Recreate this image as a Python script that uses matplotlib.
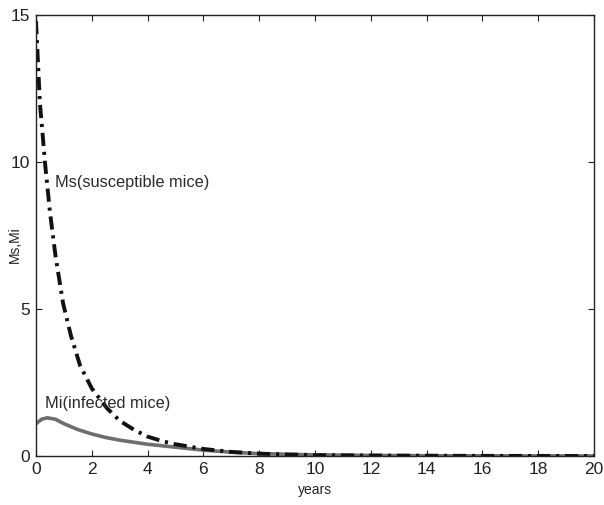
import matplotlib
matplotlib.use("Agg")
import matplotlib.pyplot as plt

# values
years_ms = [0, 0.07, 0.14, 0.25, 0.32, 0.5, 0.7, 0.97, 1.25, 1.58, 2.0, 2.54, 3.0, 3.5,
            4.0, 4.55, 5.0, 6.0, 7.0, 8.0, 9.0, 10, 12, 14, 16, 18, 20]
ms = [14.8, 13.4, 12.0, 10.8, 10.0, 8.3, 6.8, 5.2, 4.1, 3.08, 2.3, 1.63, 1.2, 0.9,
      0.66, 0.5, 0.4, 0.24, 0.14, 0.08, 0.05, 0.03, 0.015, 0.01, 0.005, 0.003, 0.002]

years_mi = [0, 0.2, 0.4, 0.7, 1.0, 1.5, 2.0, 2.5, 3.0, 4.0, 5.0, 6.0, 7.0, 8.0,
            10, 12, 14, 16, 18, 20]
mi = [1.1, 1.25, 1.3, 1.25, 1.1, 0.9, 0.75, 0.63, 0.54, 0.4, 0.3, 0.2, 0.13, 0.08,
      0.04, 0.02, 0.01, 0.005, 0.003, 0.002]

x_ticks = list(range(0, 21, 2))
y_ticks = [0, 5, 10, 15]

plt.rcParams["font.family"] = ["Liberation Sans", "DejaVu Sans"]

fig = plt.figure(figsize=(6.04, 5.05), dpi=100)
ax = fig.add_axes([0.0596, 0.097, 0.924, 0.873])

ax.plot(years_mi, mi, color="#6e6e6e", linewidth=2.6, solid_capstyle="butt")
ax.plot(years_ms, ms, color="#111111", linewidth=2.8,
        linestyle=(0, (3.4, 1.5, 0.8, 1.5)))

ax.text(0.68, 9.3, "Ms(susceptible mice)", fontsize=11.8, color="#2a2a2a", va="center")
ax.text(0.32, 1.8, "Mi(infected mice)", fontsize=11.8, color="#2a2a2a", va="center")

ax.set_xlim(0, 20)
ax.set_ylim(0, 15)
ax.set_xticks(x_ticks)
ax.set_yticks(y_ticks)
ax.tick_params(direction="in", top=True, right=True, labelsize=12.5, length=4,
               width=0.8, pad=4, colors="#222222")
ax.set_xlabel("years", fontsize=10, color="#222222")
ax.set_ylabel("Ms,Mi", fontsize=10, color="#222222")
ax.xaxis.set_label_coords(0.5, -0.062)
ax.yaxis.set_label_coords(-0.026, 0.48)
for s in ax.spines.values():
    s.set_linewidth(1.0)
    s.set_color("#222222")

fig.savefig("out.png", dpi=100)
